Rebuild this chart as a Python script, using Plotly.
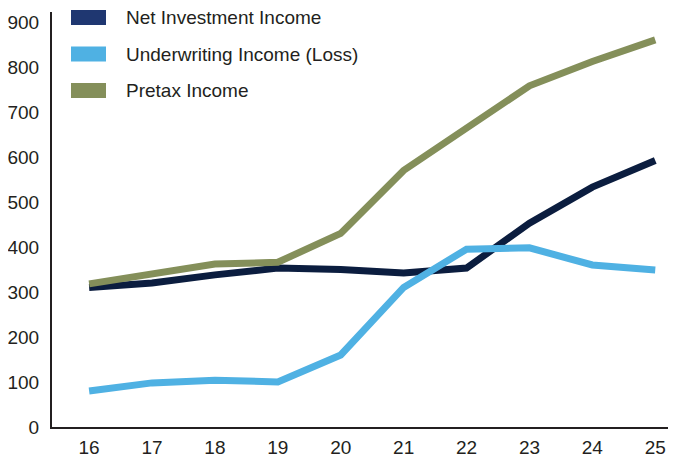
import plotly.graph_objects as go

# ==========================================
# DATA
# ==========================================
years = [16, 17, 18, 19, 20, 21, 22, 23, 24, 25]
net_investment = [310, 320, 338, 353, 350, 342, 353, 453, 533, 592]
underwriting = [80, 98, 104, 100, 160, 310, 395, 398, 360, 349]
pretax = [318, 340, 362, 366, 430, 570, 662, 758, 812, 860]

series_names = ["Net Investment Income", "Underwriting Income (Loss)", "Pretax Income"]
line_colors = ["#0b1d3f", "#4fb1e3", "#848f5a"]
swatch_colors = ["#1f3771", "#4fb1e3", "#848f5a"]

# the html page has an 8px body margin, so the figure is drawn 8px in
OFF = 8
W, H = 676 - OFF, 460 - OFF
M = dict(l=52 - OFF, r=0, t=12 - OFF, b=33)
FONT = "Arial, Liberation Sans, Helvetica, sans-serif"
TEXT = "#231f20"

fig = go.Figure()
for name, vals, col in zip(series_names, [net_investment, underwriting, pretax], line_colors):
    fig.add_trace(go.Scatter(x=years, y=vals, mode="lines", name=name,
                             line=dict(color=col, width=7), showlegend=False))

# hand-made legend (screen pixel -> paper coords)
pw, ph = W - M["l"] - M["r"], H - M["t"] - M["b"]
px = lambda v: (v - OFF - M["l"]) / pw
py = lambda v: (H - M["b"] - (v - OFF)) / ph

for i, (name, col) in enumerate(zip(series_names, swatch_colors)):
    top = 10 + i * 36.5
    fig.add_shape(type="rect", xref="paper", yref="paper",
                  x0=px(71), x1=px(106), y0=py(top), y1=py(top + 15),
                  fillcolor=col, line=dict(width=0))
    fig.add_annotation(xref="paper", yref="paper", x=px(124), y=py(top + 7.5),
                       xanchor="left", yanchor="middle", showarrow=False,
                       text=name, font=dict(size=19, color=TEXT, family=FONT))

fig.update_layout(
    width=W, height=H, margin=M,
    plot_bgcolor="white", paper_bgcolor="white",
    font=dict(family=FONT, size=18, color=TEXT),
)

fig.update_xaxes(
    range=[15.41, 25.33], tickvals=years, ticktext=[str(y) for y in years],
    showgrid=False, zeroline=False, showline=True, linecolor=TEXT, linewidth=2,
    ticks="", ticklabelstandoff=2, automargin=False,
    tickfont=dict(size=19, color=TEXT),
)
fig.update_yaxes(
    range=[0, 922], dtick=100, tick0=0,
    showgrid=False, zeroline=False, showline=True, linecolor=TEXT, linewidth=2,
    ticks="", ticklabelstandoff=7, automargin=False,
    tickfont=dict(size=19, color=TEXT),
)

fig.write_html("out.html")
